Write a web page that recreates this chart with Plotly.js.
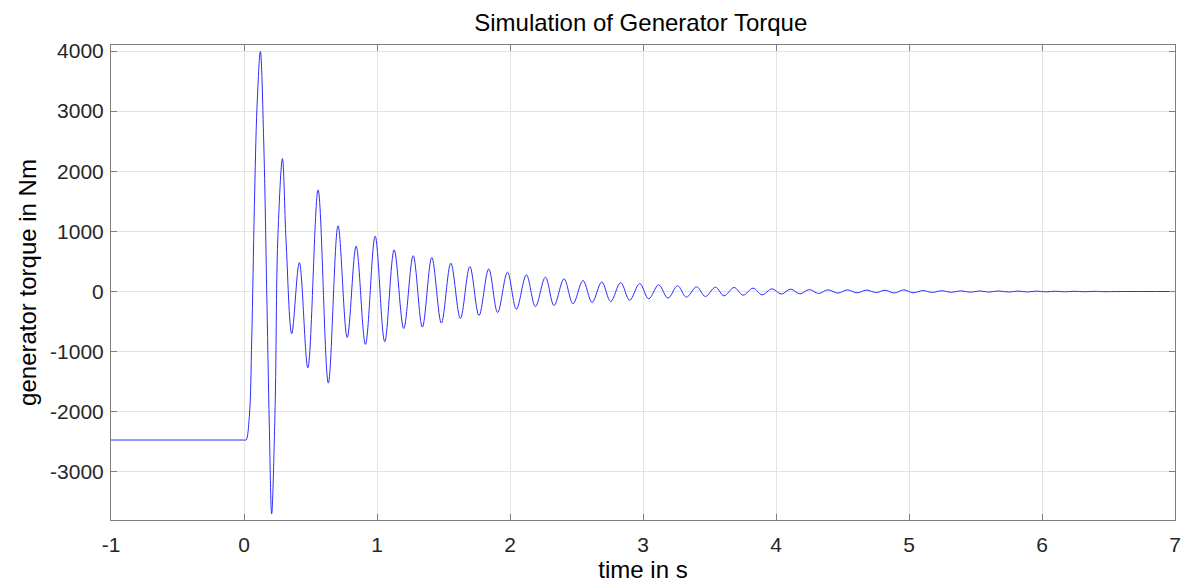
<!DOCTYPE html>
<html>
<head>
<meta charset="utf-8">
<script src="https://cdn.plot.ly/plotly-3.0.1.min.js"></script>
<style>
  html, body { margin: 0; padding: 0; background: #ffffff; }
  #chart { width: 1182px; height: 585px; }
</style>
</head>
<body>
<div id="chart"></div>
<script>
// time in s (flat start, then peaks and troughs of the oscillation)
const timeS = [
  -1, 0.0, 0.015, 0.040, 0.058, 0.078, 0.098, 0.123, 0.148, 0.173, 0.190, 0.208, 0.234, 0.254,
  0.289, 0.316, 0.359, 0.416, 0.480, 0.557, 0.634, 0.707, 0.776, 0.843, 0.913, 0.986,
  1.058, 1.129, 1.201, 1.272, 1.341, 1.412, 1.484, 1.555, 1.627, 1.698, 1.767, 1.840,
  1.907, 1.981, 2.048, 2.123, 2.191, 2.266, 2.331, 2.406, 2.474, 2.549, 2.617, 2.690,
  2.757, 2.832, 2.900, 2.975, 3.043, 3.118, 3.188, 3.260, 3.326, 3.403, 3.469, 3.545,
  3.609, 3.685, 3.752, 3.828, 3.895, 3.970, 4.040, 4.110, 4.180, 4.250, 4.320, 4.390,
  4.467, 4.536, 4.610, 4.680, 4.755, 4.820, 4.890, 4.960, 5.030, 5.105, 5.175, 5.245,
  5.320, 5.390, 5.460, 5.530, 5.600, 5.670, 5.750, 5.820, 5.890, 5.960, 6.030, 6.100,
  6.170, 6.240, 6.320, 6.390, 6.460, 6.600, 7.000
];
// generator torque in Nm
const torqueNm = [
  -2470, -2470, -2470, -2077, -803, 1413, 3075, 3990, 2521, -249, -2187, -3700, -1911, 859,
  2210, 859, -700, 482, -1270, 1690, -1523, 1092, -764, 755, -880, 920,
  -836, 693, -615, 596, -592, 565, -525, 471, -448, 416, -400, 375,
  -349, 322, -293, 277, -249, 239, -233, 211, -204, 183, -183, 160,
  -166, 148, -145, 133, -121, 111, -110, 95, -93, 78, -83, 72,
  -72, 67, -60, 56, -55, 45, -43, 40, -38, 33, -33, 28,
  -27, 28, -22, 23, -17, 22, -25, 28, -20, 15, -15, 13,
  -13, 12, -12, 10, -10, 9, -9, 8, -8, 7, -6, 5,
  -5, 4, -4, 3, -2, 0, 0
];
const xTickVals = [-1, 0, 1, 2, 3, 4, 5, 6, 7];
const xTickText = ["-1", "0", "1", "2", "3", "4", "5", "6", "7"];
const yTickVals = [-3000, -2000, -1000, 0, 1000, 2000, 3000, 4000];
const yTickText = ["-3000", "-2000", "-1000", "0", "1000", "2000", "3000", "4000"];

const fontFam = "Liberation Sans, Arial, Helvetica, sans-serif";
const trace = {
  x: timeS,
  y: torqueNm,
  type: "scatter",
  mode: "lines",
  line: { color: "rgb(45,45,255)", width: 1, shape: "spline", smoothing: 1 },
  hoverinfo: "x+y"
};
const axisCommon = {
  showline: true,
  linecolor: "#7f7f7f",
  linewidth: 1,
  mirror: "ticks",
  ticks: "inside",
  ticklen: 6,
  tickcolor: "#7f7f7f",
  showgrid: true,
  gridcolor: "#e3e3e3",
  gridwidth: 1,
  zeroline: false,
  tickfont: { family: fontFam, size: 21, color: "#262626" }
};
const layout = {
  width: 1182,
  height: 585,
  margin: { l: 111, r: 7, t: 45, b: 65 },
  paper_bgcolor: "#ffffff",
  plot_bgcolor: "#ffffff",
  showlegend: false,
  title: {
    text: "Simulation of Generator Torque",
    font: { family: fontFam, size: 24, color: "#000000" },
    x: 0.5421, xanchor: "center", y: 0.962, yanchor: "middle"
  },
  xaxis: Object.assign({}, axisCommon, {
    range: [-1, 7],
    tickvals: xTickVals,
    ticktext: xTickText,
    ticklabelstandoff: 6,
    title: { text: "time in s", font: { family: fontFam, size: 24, color: "#000000" }, standoff: 2 }
  }),
  yaxis: Object.assign({}, axisCommon, {
    range: [-3800, 4100],
    tickvals: yTickVals,
    ticktext: yTickText,
    ticklabelstandoff: 2,
    title: { text: "generator torque in Nm", font: { family: fontFam, size: 24, color: "#000000" }, standoff: 6 }
  })
};
Plotly.newPlot("chart", [trace], layout, { displayModeBar: false, staticPlot: true });
</script>
</body>
</html>
